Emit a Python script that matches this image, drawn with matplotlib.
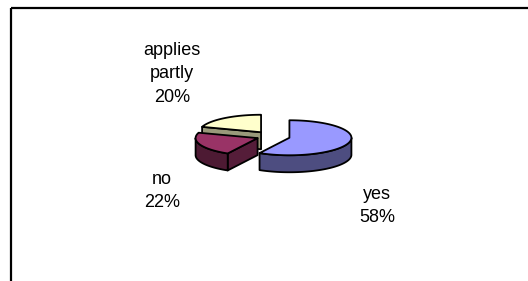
import numpy as np
import matplotlib
matplotlib.use("Agg")
import matplotlib.pyplot as plt
from matplotlib.patches import Polygon

# ---- data ----
categories = ["yes", "no", "applies\npartly"]
percent = [58, 22, 20]
pct_labels = ["58%", "22%", "20%"]

# ---- style / layout ----
top_colors = ["#9999FF", "#993366", "#FFFFCC"]
side_colors = ["#4D4D80", "#4D1A33", "#808066"]
face_colors = ["#5A5A96", "#551D39", "#99997A"]
explode = [0.29, 0.25, 0.30]
center = (272.0, 136.5)      # pixel coords of pie centre
rx, ry, depth = 62.0, 17.5, 17.0
label_pos = [(377, 206), (162, 191), (172, 74)]

W, H = 528, 281
fig = plt.figure(figsize=(W / 100, H / 100), dpi=100)
ax = fig.add_axes([0, 0, 1, 1])
ax.set_xlim(0, W)
ax.set_ylim(H, 0)
ax.axis("off")

# frame lines
ax.plot([10.5, W], [7.5, 7.5], color="black", lw=1.6, solid_capstyle="butt")
ax.plot([10.5, 10.5], [7.5, H], color="black", lw=1.6, solid_capstyle="butt")

total = float(sum(percent))
cum = np.concatenate([[0], np.cumsum(percent)]) / total
starts = 90 - cum[:-1] * 360   # hi angle
ends = 90 - cum[1:] * 360      # lo angle


def pt(c, t, dz=0.0):
    r = np.deg2rad(t)
    return (c[0] + rx * np.cos(r), c[1] - ry * np.sin(r) + dz)


lw = 1.3
order = [2, 1, 0]  # back to front
z = 2
for i in order:
    hi, lo = starts[i], ends[i]
    mid = (hi + lo) / 2
    m = np.deg2rad(mid)
    c = (center[0] + explode[i] * rx * np.cos(m),
         center[1] - explode[i] * ry * np.sin(m))
    cb = (c[0], c[1] + depth)
    # radial faces
    for t, nrm in ((hi, hi + 90), (lo, lo - 90)):
        if np.sin(np.deg2rad(nrm)) < -1e-6:
            p = pt(c, t)
            p2 = pt(c, t, depth)
            ax.add_patch(Polygon([c, p, p2, cb], closed=True,
                                 facecolor=face_colors[i], edgecolor="black",
                                 lw=lw, joinstyle="round", zorder=z))
            z += 1
    # curved outer side (front half only)
    for k in (-1, 0, 1):
        a0, a1 = -180 + 360 * k, 0 + 360 * k
        s0, s1 = max(lo, a0), min(hi, a1)
        if s1 > s0:
            ts = np.linspace(s0, s1, 80)
            topp = [pt(c, t) for t in ts]
            botp = [pt(c, t, depth) for t in ts[::-1]]
            ax.add_patch(Polygon(topp + botp, closed=True,
                                 facecolor=side_colors[i], edgecolor="black",
                                 lw=lw, joinstyle="round", zorder=z))
            z += 1
    # top face
    ts = np.linspace(hi, lo, 120)
    poly = [c] + [pt(c, t) for t in ts]
    ax.add_patch(Polygon(poly, closed=True, facecolor=top_colors[i],
                         edgecolor="black", lw=lw, joinstyle="round", zorder=z))
    z += 1

for i in range(len(categories)):
    ax.text(label_pos[i][0], label_pos[i][1],
            f"{categories[i]}\n{pct_labels[i]}",
            ha="center", va="center", multialignment="center",
            fontsize=13, family=["Liberation Sans", "DejaVu Sans"],
            linespacing=1.5, color="black")

fig.savefig("out.png", dpi=100)
